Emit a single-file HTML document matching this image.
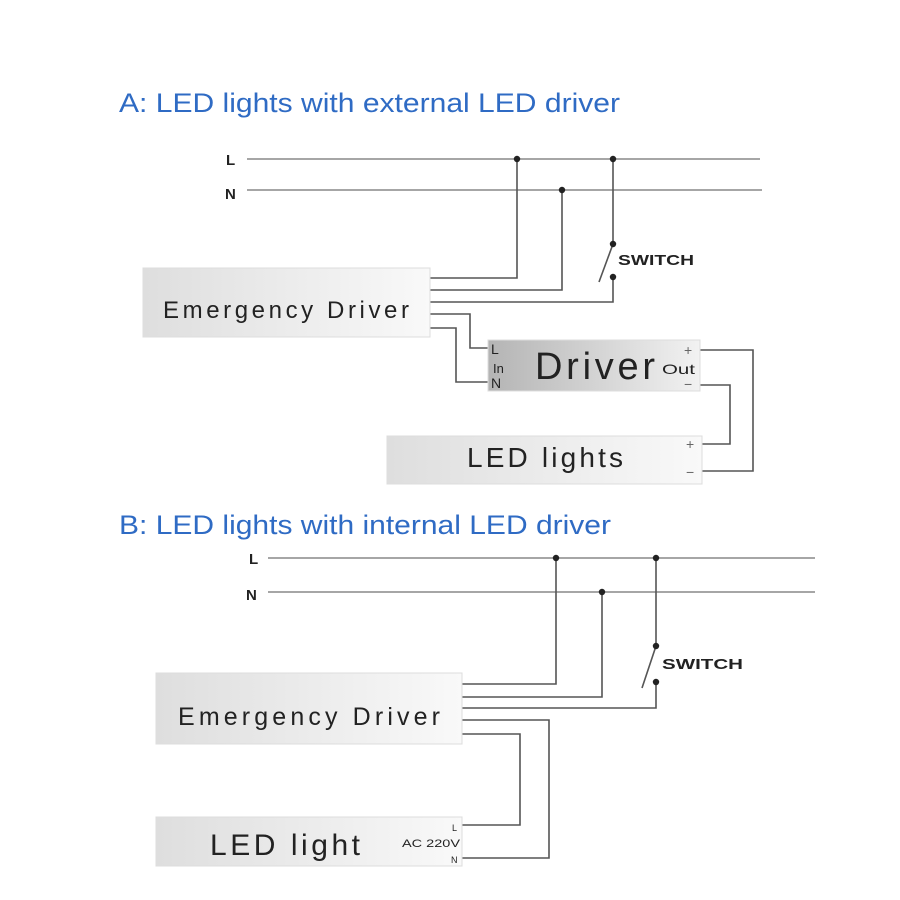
<!DOCTYPE html>
<html><head><meta charset="utf-8"><style>html,body{margin:0;padding:0;background:#fff;}svg{display:block;}</style></head>
<body>
<svg width="900" height="900" viewBox="0 0 900 900" xmlns="http://www.w3.org/2000/svg" font-family="Liberation Sans, sans-serif">
<defs>
<linearGradient id="g1" x1="0" x2="1" y1="0" y2="0"><stop offset="0" stop-color="#dedede"/><stop offset="1" stop-color="#f9f9f9"/></linearGradient>
<linearGradient id="g2" x1="0" x2="1" y1="0" y2="0"><stop offset="0" stop-color="#b4b4b4"/><stop offset="1" stop-color="#f2f2f2"/></linearGradient>
</defs>
<g fill="none" stroke="#555" stroke-width="1.6">
<line x1="247" y1="159" x2="760" y2="159" stroke="#888"/>
<line x1="247" y1="190" x2="762" y2="190" stroke="#888"/>
<polyline points="430,278 517,278 517,159"/>
<polyline points="430,290 562,290 562,190"/>
<polyline points="613,159 613,244"/>
<polyline points="613,244 599,282"/>
<polyline points="430,302 613,302 613,277"/>
<polyline points="430,314 470,314 470,348 490,348"/>
<polyline points="430,328 456,328 456,382 490,382"/>
<polyline points="700,350 753,350 753,471 702,471"/>
<polyline points="700,385 730,385 730,444 702,444"/>
<line x1="268" y1="558" x2="815" y2="558" stroke="#888"/>
<line x1="268" y1="592" x2="815" y2="592" stroke="#888"/>
<polyline points="462,684 556,684 556,558"/>
<polyline points="462,697 602,697 602,592"/>
<polyline points="656,558 656,646"/>
<polyline points="656,646 642,688"/>
<polyline points="462,708 656,708 656,682"/>
<polyline points="462,720 549,720 549,858 462,858"/>
<polyline points="462,734 520,734 520,825 462,825"/>
</g>
<g fill="#222">
<circle cx="517" cy="159" r="3.2"/><circle cx="613" cy="159" r="3.2"/><circle cx="562" cy="190" r="3.2"/>
<circle cx="613" cy="244" r="3.2"/><circle cx="613" cy="277" r="3.2"/>
<circle cx="556" cy="558" r="3.2"/><circle cx="656" cy="558" r="3.2"/><circle cx="602" cy="592" r="3.2"/>
<circle cx="656" cy="646" r="3.2"/><circle cx="656" cy="682" r="3.2"/>
</g>
<rect x="143" y="268" width="287" height="69" fill="url(#g1)" stroke="#ddd"/>
<rect x="488" y="340" width="212" height="51" fill="url(#g2)" stroke="#ddd"/>
<rect x="387" y="436" width="315" height="48" fill="url(#g1)" stroke="#ddd"/>
<rect x="156" y="673" width="306" height="71" fill="url(#g1)" stroke="#ddd"/>
<rect x="156" y="817" width="306" height="49" fill="url(#g1)" stroke="#ddd"/>
<g fill="#2f6bc4" font-size="27">
<text x="119" y="112" textLength="501" lengthAdjust="spacingAndGlyphs">A: LED lights with external LED driver</text>
<text x="119" y="534" textLength="492" lengthAdjust="spacingAndGlyphs">B: LED lights with internal LED driver</text>
</g>
<g fill="#222" font-weight="bold" font-size="15">
<text x="226" y="165">L</text><text x="225" y="199">N</text>
<text x="249" y="564">L</text><text x="246" y="600">N</text>
<text x="618" y="265" textLength="76" lengthAdjust="spacingAndGlyphs">SWITCH</text>
<text x="662" y="669" textLength="81" lengthAdjust="spacingAndGlyphs">SWITCH</text>
</g>
<g fill="#222">
<text x="163" y="318" font-size="24" textLength="246" lengthAdjust="spacing">Emergency Driver</text>
<text x="535" y="379" font-size="38" textLength="120" lengthAdjust="spacing">Driver</text>
<text x="491" y="354" font-size="14">L</text>
<text x="493" y="373" font-size="13">In</text>
<text x="491" y="388" font-size="14">N</text>
<text x="662" y="374" font-size="14" textLength="33" lengthAdjust="spacingAndGlyphs">Out</text>
<text x="684" y="355" font-size="14" fill="#666">+</text>
<text x="684" y="389" font-size="14" fill="#666">−</text>
<text x="467" y="467" font-size="28" textLength="156" lengthAdjust="spacing">LED lights</text>
<text x="686" y="449" font-size="14" fill="#666">+</text>
<text x="686" y="477" font-size="14" fill="#666">−</text>
<text x="178" y="725" font-size="25" textLength="262" lengthAdjust="spacing">Emergency Driver</text>
<text x="210" y="855" font-size="30" textLength="150" lengthAdjust="spacing">LED light</text>
<text x="452" y="831" font-size="9">L</text>
<text x="402" y="847" font-size="11" textLength="58" lengthAdjust="spacingAndGlyphs">AC 220V</text>
<text x="451" y="863" font-size="9">N</text>
</g>
</svg>
</body></html>
